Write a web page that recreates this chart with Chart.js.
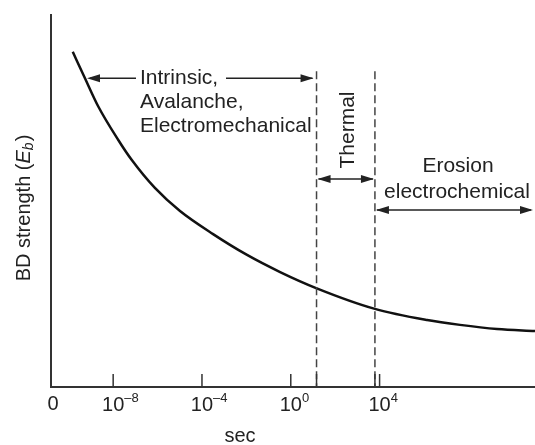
<!DOCTYPE html>
<html>
<head>
<meta charset="utf-8">
<script src="https://cdn.jsdelivr.net/npm/chart.js@4"></script>
<style>
  body { margin: 0; background: #fff; }
  #wrap { width: 535px; height: 445px; position: relative; }
</style>
</head>
<body>
<div id="wrap"><canvas id="bdChart"></canvas></div>
<script>
// log10(time / s) along x, breakdown strength (arbitrary units) along y
var logTime = [-9.82, -9.27, -8.67, -7.77, -7.16, -6.12, -4.99, -3.50, -1.97, -0.48, 1.14, 3.79, 6.14, 7.62, 9.29, 11.0];
var strength = [90.1, 83.0, 75.4, 66.4, 61.0, 53.5, 47.3, 41.1, 35.5, 30.9, 26.6, 21.0, 18.0, 16.7, 15.6, 15.05];

// x tick labels: 10^exp
var tickValues = [-8, -4, 0, 4];
var tickExps = ["\u20138", "\u20134", "0", "4"];

// region boundaries (log10 sec) and arrow heights
var boundaries = [1.16, 3.79];
var boundaryTop = 84.9;
var arrowLevels = { intrinsic: 83.0, thermal: 55.9, erosion: 47.6 };

var FONT = "'Liberation Sans', Arial, Helvetica, sans-serif";
var INK = "#222";

function arrowHead(ctx, x, y, dir) {
  ctx.beginPath();
  ctx.moveTo(x, y);
  ctx.lineTo(x - dir * 13, y - 4);
  ctx.lineTo(x - dir * 13, y + 4);
  ctx.closePath();
  ctx.fill();
}

function hLine(ctx, x1, x2, y) {
  ctx.beginPath();
  ctx.moveTo(x1, y);
  ctx.lineTo(x2, y);
  ctx.stroke();
}

var annotate = {
  id: "annotate",
  afterDatasetsDraw: function (chart) {
    var ctx = chart.ctx;
    var x = chart.scales.x, y = chart.scales.y;
    var axisY = y.getPixelForValue(0);
    ctx.save();

    // dashed region boundaries
    ctx.strokeStyle = "#444";
    ctx.lineWidth = 1.5;
    ctx.setLineDash([8, 4]);
    boundaries.forEach(function (b) {
      var px = x.getPixelForValue(b);
      ctx.beginPath();
      ctx.moveTo(px, y.getPixelForValue(boundaryTop));
      ctx.lineTo(px, axisY);
      ctx.stroke();
    });
    ctx.setLineDash([]);

    // inward tick marks
    ctx.strokeStyle = "#333";
    ctx.lineWidth = 1.5;
    tickValues.concat(boundaries).forEach(function (v) {
      var px = x.getPixelForValue(v);
      ctx.beginPath();
      ctx.moveTo(px, axisY);
      ctx.lineTo(px, axisY - 13);
      ctx.stroke();
    });

    // tick labels
    ctx.fillStyle = INK;
    ctx.textBaseline = "middle";
    ctx.font = "20px " + FONT;
    ctx.textAlign = "center";
    ctx.fillText("0", x.getPixelForValue(x.min) + 2, 404);
    tickValues.forEach(function (v, i) {
      var px = x.getPixelForValue(v);
      ctx.font = "20px " + FONT;
      ctx.textAlign = "left";
      var w = ctx.measureText("10").width;
      ctx.fillText("10", px - w / 2, 405);
      ctx.font = "13px " + FONT;
      ctx.fillText(tickExps[i], px + w / 2, 398);
    });

    // axis titles
    ctx.font = "20px " + FONT;
    ctx.textAlign = "center";
    ctx.fillText("sec", 240, 436);

    ctx.save();
    ctx.translate(24, 208);
    ctx.rotate(-Math.PI / 2);
    ctx.textAlign = "left";
    ctx.font = "20px " + FONT;
    var p1 = "BD strength (";
    var w1 = ctx.measureText(p1).width;
    ctx.font = "italic 20px " + FONT;
    var wE = ctx.measureText("E").width;
    ctx.font = "italic 14px " + FONT;
    var wb = ctx.measureText("b").width;
    ctx.font = "20px " + FONT;
    var wp = ctx.measureText(")").width;
    var sx = -(w1 + wE + wb + wp + 1) / 2;
    ctx.fillText(p1, sx, 0);
    ctx.font = "italic 20px " + FONT;
    ctx.fillText("E", sx + w1, 0);
    ctx.font = "italic 14px " + FONT;
    ctx.fillText("b", sx + w1 + wE, 5);
    ctx.font = "20px " + FONT;
    ctx.fillText(")", sx + w1 + wE + wb + 1, 0);
    ctx.restore();

    // region annotations
    ctx.strokeStyle = "#222";
    ctx.fillStyle = INK;
    ctx.lineWidth = 1.5;
    var b1 = x.getPixelForValue(boundaries[0]);
    var b2 = x.getPixelForValue(boundaries[1]);

    // intrinsic arrow: from curve to first boundary
    var ay = y.getPixelForValue(arrowLevels.intrinsic);
    hLine(ctx, 90, 136, ay);
    hLine(ctx, 226, b1 - 4, ay);
    arrowHead(ctx, 87, ay, -1);
    arrowHead(ctx, b1 - 3, ay, 1);
    ctx.font = "21px " + FONT;
    ctx.textAlign = "left";
    ctx.fillText("Intrinsic,", 140, ay);
    ctx.fillText("Avalanche,", 140, ay + 24);
    ctx.fillText("Electromechanical", 140, ay + 48);

    // thermal
    var ty = y.getPixelForValue(arrowLevels.thermal);
    hLine(ctx, b1 + 2, b2 - 2, ty);
    arrowHead(ctx, b1 + 1, ty, -1);
    arrowHead(ctx, b2 - 1, ty, 1);
    ctx.save();
    ctx.translate(348, 130);
    ctx.rotate(-Math.PI / 2);
    ctx.textAlign = "center";
    ctx.fillText("Thermal", 0, 0);
    ctx.restore();

    // erosion
    var ey = y.getPixelForValue(arrowLevels.erosion);
    var right = chart.chartArea.right - 2;
    hLine(ctx, b2 + 2, right - 2, ey);
    arrowHead(ctx, b2 + 1, ey, -1);
    arrowHead(ctx, right, ey, 1);
    ctx.textAlign = "center";
    ctx.fillText("Erosion", 458, 166);
    ctx.fillText("electrochemical", 457, 192);

    ctx.restore();
  }
};

var points = logTime.map(function (t, i) { return { x: t, y: strength[i] }; });

new Chart(document.getElementById("bdChart"), {
  type: "scatter",
  data: {
    datasets: [{
      data: points,
      showLine: true,
      borderColor: "#111",
      borderWidth: 2.5,
      pointRadius: 0,
      cubicInterpolationMode: "monotone"
    }]
  },
  options: {
    responsive: true,
    maintainAspectRatio: false,
    animation: false,
    layout: { padding: { top: 15, right: 0, left: 0, bottom: 0 } },
    plugins: { legend: { display: false }, tooltip: { enabled: false } },
    scales: {
      x: {
        type: "linear",
        min: -10.8,
        max: 11,
        ticks: { display: false },
        grid: { display: false, drawTicks: false },
        border: { display: true, color: "#333", width: 2 },
        afterFit: function (s) { s.height = 58; }
      },
      y: {
        type: "linear",
        min: 0,
        max: 100,
        ticks: { display: false },
        grid: { display: false, drawTicks: false },
        border: { display: true, color: "#333", width: 2 },
        afterFit: function (s) { s.width = 51; }
      }
    }
  },
  plugins: [annotate]
});
</script>
</body>
</html>
